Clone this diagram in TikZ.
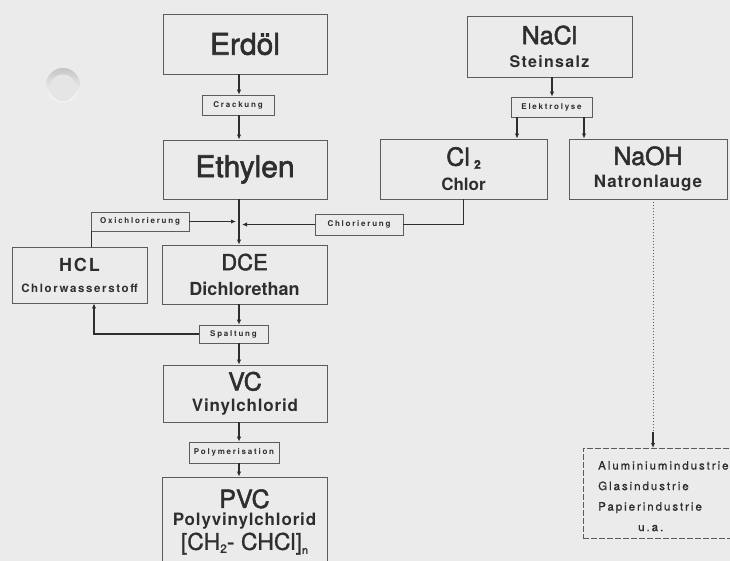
\documentclass[tikz,border=0pt]{standalone}
\usepackage{fontspec}
\setmainfont{TeX Gyre Heros}
\usetikzlibrary{arrows.meta}
\definecolor{bg}{HTML}{EBEBEB}
\definecolor{ink}{HTML}{2E2E2E}
\definecolor{edge}{HTML}{5C5C5C}
\newcommand\fsz[2]{\fontsize{#1}{#2}\selectfont}
\newcommand\lsp[1]{\addfontfeatures{LetterSpace=#1}}
\newcommand\heavy{\addfontfeatures{FakeBold=2}}
\newcommand\semi{\addfontfeatures{FakeBold=1}}
\begin{document}
\begin{tikzpicture}[x=1pt,y=-1pt,
  box/.style={draw=edge,line width=0.9pt,inner sep=0pt,align=center,text=ink},
  tag/.style={draw=edge,line width=0.7pt,inner sep=0pt,text=ink,font=\fsz{8}{9}\bfseries\lsp{22}},
  arr/.style={draw=ink,line width=1.4pt,-{Latex[length=5pt,width=4.5pt]}},
  ln/.style={draw=ink,line width=1.4pt}]
\fill[bg] (0,0) rectangle (730,561);
\useasboundingbox (0,0) rectangle (730,561);
% punch hole
\shade[top color=gray!45, bottom color=white] (63,85) circle (17);
\fill[white!80!gray] (63,88) circle (13.5);

% main boxes
\node[box,minimum width=164pt,minimum height=60pt] (erdol) at (245,44) {\fsz{30}{34}\heavy Erdöl};
\node[box,minimum width=164pt,minimum height=59pt] (eth) at (245,169.5) {\fsz{30}{34}\heavy Ethylen};
\node[box,minimum width=165pt,minimum height=61pt,font=\fsz{10}{23}] (nacl) at (549.5,46.5)
  {\fsz{25}{26}\heavy NaCl\\\fsz{16}{18}\bfseries\lsp{8}Steinsalz};
\node[box,minimum width=167pt,minimum height=60pt,font=\fsz{10}{25}] (cl) at (463.5,169)
  {\fsz{25}{26}\heavy Cl\,\raisebox{-3pt}{\fsz{12}{12}\bfseries 2}\\\fsz{17}{18}\bfseries Chlor};
\node[box,minimum width=158pt,minimum height=60pt,font=\fsz{10}{23}] (naoh) at (648,169)
  {\fsz{25}{26}\heavy NaOH\\\fsz{17}{18}\bfseries\lsp{5}Natronlauge};
\node[box,minimum width=135pt,minimum height=56pt,font=\fsz{10}{21}] (hcl) at (79.5,275)
  {\fsz{18}{20}\bfseries\lsp{10}HCL\\\fsz{11.5}{12}\bfseries\lsp{14}Chlorwasserstoff};
\node[box,minimum width=165pt,minimum height=59pt,font=\fsz{10}{25}] (dce) at (244.5,274.5)
  {\fsz{22}{24}\heavy DCE\\\fsz{18}{19}\bfseries Dichlorethan};
\node[box,minimum width=164pt,minimum height=57pt,font=\fsz{10}{21}] (vc) at (245,393.5)
  {\fsz{25}{26}\heavy VC\\\fsz{17}{18}\bfseries\lsp{5}Vinylchlorid};
\node[box,minimum width=165pt,minimum height=90pt,font=\fsz{10}{18}] (pvc) at (244.5,522)
  {\fsz{25}{26}\heavy PVC\\\fsz{17}{18}\bfseries\lsp{5}Polyvinylchlorid\\[2pt]
   \fsz{23}{24}\semi[CH\raisebox{-3pt}{\fsz{12}{12}2}- CHCl]\raisebox{-4pt}{\fsz{11}{11}n}};
\node[draw=edge,line width=0.7pt,dash pattern=on 6pt off 2pt,inner sep=0pt,
      minimum width=160pt,minimum height=90pt,anchor=north west,text=ink] (alu) at (583,448) {};
\node[anchor=north west,inner sep=0pt,align=left,text=ink,
      font=\fsz{11.5}{20.5}\semi\lsp{17}] (alutext) at (598,461)
  {Aluminiumindustrie\\Glasindustrie\\Papierindustrie\\\hspace*{40pt}u.a.};

% process tags
\node[tag,minimum width=72pt,minimum height=20pt] (crack) at (238,105) {Crackung};
\node[tag,minimum width=98pt,minimum height=19pt] (oxi) at (140,221.5) {Oxichlorierung};
\node[tag,minimum width=88pt,minimum height=21pt] (chlor) at (359,224.5) {Chlorierung};
\node[tag,minimum width=69pt,minimum height=18pt] (spalt) at (233.5,334) {Spaltung};
\node[tag,minimum width=90pt,minimum height=21pt] (poly) at (234,452.5) {Polymerisation};
\node[tag,minimum width=81pt,minimum height=20pt] (elek) at (551.5,107) {Elektrolyse};

% helper coordinates
\coordinate (spine) at (239,0);
\coordinate (jl) at (236,0);
\coordinate (jr) at (242,0);
\coordinate (hx) at (94,0);
\coordinate (e0) at (552,0);
\coordinate (e1) at (517,0);
\coordinate (e2) at (584,0);
\coordinate (nx) at (653,0);
\coordinate (nd) at (653,432);

% connectors
\draw[arr] (erdol.south -| spine) -- (crack.north -| spine);
\draw[arr] (crack.south -| spine) -- (eth.north -| spine);
\draw[arr] (eth.south -| spine) -- (dce.north -| spine);
\draw[arr] (oxi.east) -- (oxi.east -| jl);
\draw[arr] (chlor.west) -- (chlor.west -| jr);
\draw[ln] (cl.south) |- (chlor.east);
\draw[ln] ([xshift=1pt]hcl.north -| oxi.west) -- ([xshift=1pt]oxi.south west);
\draw[arr] (dce.south -| spine) -- (spalt.north -| spine);
\draw[arr] (spalt.south -| spine) -- (vc.north -| spine);
\draw[arr] (spalt.west) -| (hcl.south -| hx);
\draw[arr] (vc.south -| spine) -- (poly.north -| spine);
\draw[arr] (poly.south -| spine) -- (pvc.north -| spine);
\draw[arr] (nacl.south -| e0) -- (elek.north -| e0);
\draw[arr] (elek.south -| e1) -- (cl.north -| e1);
\draw[arr] (elek.south -| e2) -- (naoh.north -| e2);
\draw[draw=gray!70!black,line width=1pt,dotted] (naoh.south -| nx) -- (nd);
\draw[arr] (nd) -- (alu.north -| nx);
\end{tikzpicture}
\end{document}
